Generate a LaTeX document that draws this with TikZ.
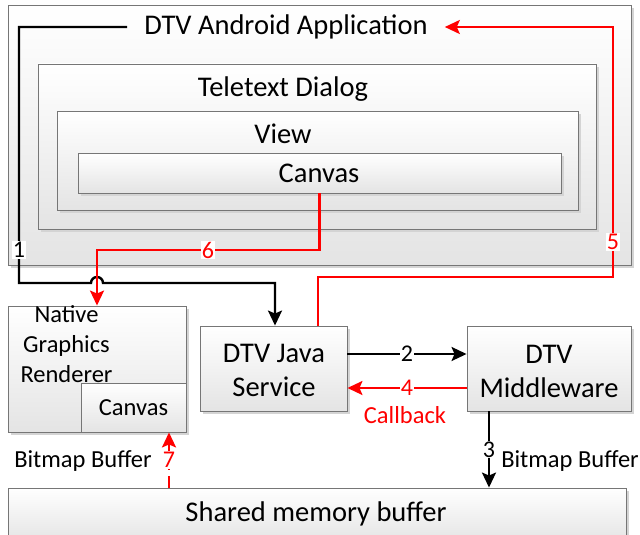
\documentclass[tikz,border=0pt]{standalone}
\usepackage{fontspec}
\setmainfont{Carlito}
\usetikzlibrary{arrows.meta,shadows,calc}

\definecolor{boxline}{HTML}{767676}
\definecolor{boxbot}{HTML}{E4E4E4}
\definecolor{shadowgray}{HTML}{D4D4D4}
\definecolor{flowred}{HTML}{FF0000}

\tikzset{
  panel/.style={draw=boxline, line width=0.9pt, top color=white, bottom color=boxbot,
    drop shadow={shadow xshift=3pt, shadow yshift=-3pt, fill=shadowgray, opacity=1},
    inner sep=0pt},
  bigtext/.style={font=\fontsize{28.5}{34}\selectfont, inner sep=0pt},
  smalltext/.style={font=\fontsize{24.5}{30}\selectfont, inner sep=0pt},
  steplbl/.style={font=\fontsize{24}{28}\selectfont, fill=white, inner sep=1pt},
  blackflow/.style={line width=2.4pt, black, -{Stealth[length=15pt,width=14pt,inset=3pt]}},
  redflow/.style={line width=2.2pt, flowred, -{Stealth[length=15pt,width=14pt,inset=3pt]}},
}

\begin{document}
\begin{tikzpicture}[x=1pt,y=-1pt]
\useasboundingbox (0,0) rectangle (640,535);

% nested application boxes
\node[panel, minimum width=623pt, minimum height=260pt] (app) at (319.5,135) {};
\node[panel, minimum width=558pt, minimum height=165pt] (dialog) at (317,146.5) {};
\node[panel, minimum width=521pt, minimum height=99pt] (view) at (317.5,160.5) {};
\node[panel, minimum width=483pt, minimum height=40pt] (canvasA) at (319.5,173) {};

\node[bigtext] (appT) at (286,27) {DTV Android Application};
\node[bigtext] (dialogT) at (283,89) {Teletext Dialog};
\node[bigtext] (viewT) at (283,134) {View};
\node[bigtext] (canvasAT) at (319,173) {Canvas};

% native renderer with its canvas
\node[panel, minimum width=178pt, minimum height=126pt] (ngr) at (97,369) {};
\node[panel, minimum width=105pt, minimum height=49pt] (canvasB) at (133.5,407.5) {};
\node[smalltext, align=center] (ngrT) at (66.5,344)
  {\fontsize{24.5}{30}\selectfont Native\\Graphics\\Renderer};
\node[smalltext] (canvasBT) at (133.5,408) {Canvas};

% services
\node[panel, minimum width=147pt, minimum height=85pt] (java) at (273.5,368.5) {};
\node[bigtext, align=center] (javaT) at (274,370)
  {\fontsize{28.5}{34}\selectfont DTV Java\\Service};
\node[panel, minimum width=164pt, minimum height=85pt] (mw) at (549,368.5) {};
\node[bigtext, align=center] (mwT) at (549,371)
  {\fontsize{28.5}{34}\selectfont DTV\\Middleware};

% shared memory
\node[panel, minimum width=618pt, minimum height=54pt] (shm) at (317,515) {};
\node[bigtext] (shmT) at (316,514) {Shared memory buffer};

% 1: application to java service, hopping over flow 6
\coordinate (c1) at (19,283);
\coordinate (hopL) at (91,283);
\draw[blackflow] ([xshift=-17pt]appT.west) -| (c1) -- (hopL) arc (180:360:6)
  -| ([xshift=1.5pt]java.north);
\node[steplbl] (l1) at (19,250) {1};

% 6: canvas to native renderer
\coordinate (c6) at (97,250);
\draw[redflow] (canvasA.south) |- (c6) -- (ngr.north);
\node[steplbl, text=flowred] (l6) at (208,250) {6};

% 5: java service back to application
\coordinate (c5) at (613,277);
\draw[redflow] ([xshift=44.5pt]java.north) |- (c5) |- ([xshift=17pt]appT.east);
\node[steplbl, text=flowred] (l5) at (613,242) {5};

% 2 and 4: java service <-> middleware
\draw[blackflow] (java.east |- 0,354) -- (mw.west |- 0,354)
  node[midway, steplbl] (l2) {2};
\draw[redflow] (mw.west |- 0,388) -- (java.east |- 0,388)
  node[midway, steplbl, text=flowred] (l4) {4};
\node[smalltext, text=flowred] (cb) at (405,415) {Callback};

% 3: middleware writes bitmap buffer
\draw[blackflow] (mw.south -| 489,0) -- (shm.north -| 489,0)
  node[midway, steplbl] (l3) {3};
\node[smalltext] (bbR) at (570,461) {Bitmap Buffer};

% 7: bitmap buffer read into native canvas
\draw[redflow, dash pattern=on 12pt off 6pt] (shm.north -| 169,0) -- (canvasB.south -| 169,0)
  node[midway, steplbl, text=flowred] (l7) {7};
\node[smalltext] (bbL) at (83,461) {Bitmap Buffer};
\end{tikzpicture}
\end{document}
